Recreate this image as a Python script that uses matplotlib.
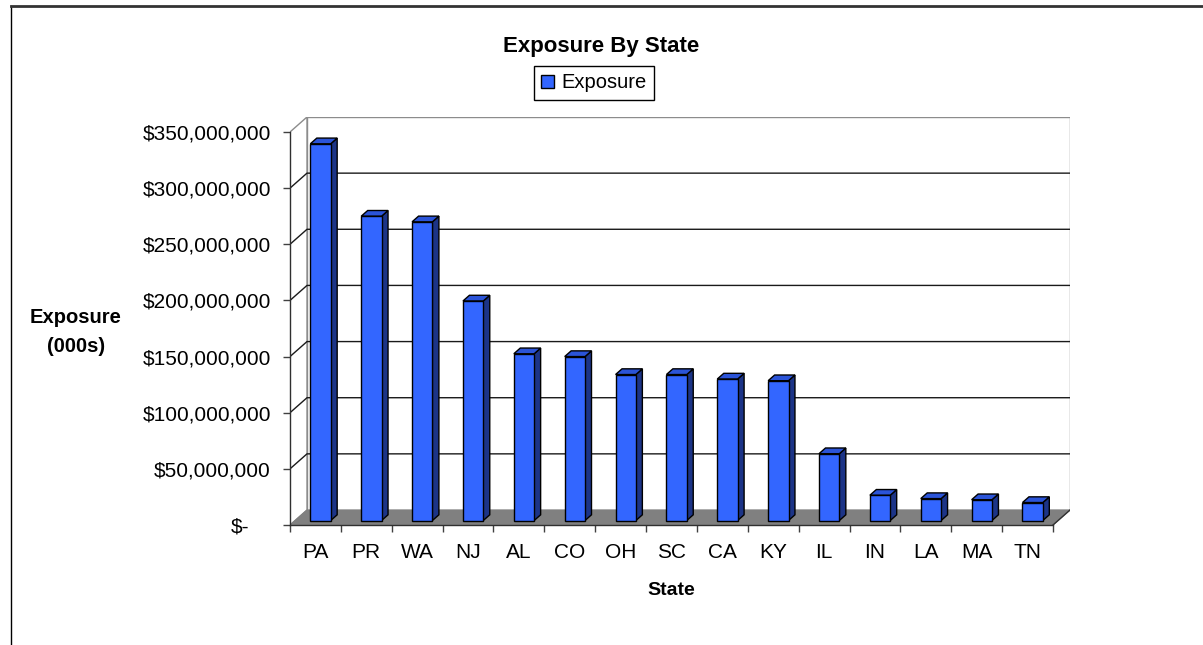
import matplotlib
matplotlib.use('Agg')
import matplotlib.pyplot as plt
from matplotlib.patches import Polygon, Rectangle, Patch
from matplotlib.lines import Line2D
import matplotlib.transforms as mtransforms
import numpy as np

# ---------------- data ----------------
states = ['PA', 'PR', 'WA', 'NJ', 'AL', 'CO', 'OH', 'SC', 'CA', 'KY', 'IL', 'IN', 'LA', 'MA', 'TN']
exposure = [335.5e6, 271e6, 266e6, 195.5e6, 148.5e6, 146e6, 130e6, 130e6, 126e6, 124.5e6,
            59.5e6, 22.5e6, 19.5e6, 18.5e6, 16e6]
y_ticks = [0, 50e6, 100e6, 150e6, 200e6, 250e6, 300e6, 350e6]
y_tick_labels = ['$-', '$50,000,000', '$100,000,000', '$150,000,000', '$200,000,000',
                 '$250,000,000', '$300,000,000', '$350,000,000']
title = 'Exposure By State'
series_name = 'Exposure'
x_title = 'State'
y_title_lines = ['Exposure', '(000s)']

# ---------------- style ----------------
plt.rcParams['font.family'] = ['Liberation Sans', 'DejaVu Sans']
FRONT = '#3366FF'
SIDE = '#1C3487'
TOP = '#2B54D8'
FLOOR = '#808080'
WALL_EDGE = '#8C8C8C'

W, H = 1203, 645
fig = plt.figure(figsize=(W / 100, H / 100), dpi=100)

# layout in pixels
front_l, front_r, front_b, front_t = 290, 1053, 525, 132
depth_x, depth_y = 17, 15
n = len(states)
ymax = y_ticks[-1]
px_per_cat = (front_r - front_l) / n
px_per_val = (front_b - front_t) / ymax
dxc = depth_x / px_per_cat
dyv = depth_y / px_per_val

ax = fig.add_axes([front_l / W, 1 - front_b / H,
                   (front_r + depth_x - front_l) / W,
                   (front_b - front_t + depth_y) / H])
ax.set_xlim(0, n + dxc)
ax.set_ylim(0, ymax + dyv)
ax.patch.set_visible(False)
for s in ['top', 'right']:
    ax.spines[s].set_visible(False)
ax.spines['left'].set_bounds(0, ymax)
ax.spines['bottom'].set_bounds(0, n)
for s in ['left', 'bottom']:
    ax.spines[s].set_color('#303030')
    ax.spines[s].set_linewidth(1)
    ax.spines[s].set_zorder(6)

# walls
back = Polygon([(dxc, dyv), (n + dxc, dyv), (n + dxc, ymax + dyv), (dxc, ymax + dyv)],
               closed=True, fc='white', ec=WALL_EDGE, lw=1, zorder=0.5)
left = Polygon([(0, 0), (dxc, dyv), (dxc, ymax + dyv), (0, ymax)],
               closed=True, fc='white', ec=WALL_EDGE, lw=1, zorder=0.5)
ax.add_patch(back)
ax.add_patch(left)
for v in y_ticks[1:-1]:
    ax.plot([0, dxc, n + dxc], [v, v + dyv, v + dyv], color='#1a1a1a', lw=1,
            zorder=0.8, solid_capstyle='butt')
floor = Polygon([(0, 0), (n, 0), (n + dxc, dyv), (dxc, dyv)], closed=True,
                fc=FLOOR, ec=FLOOR, lw=0.8, zorder=1)
ax.add_patch(floor)
ax.plot([n, n + dxc], [0, dyv], color='#303030', lw=1, zorder=1.2)

# bars
bw = 0.4
f1, f2 = 0.30, 0.68
for i, v in enumerate(exposure):
    x0 = i + 0.5 - bw / 2 + f1 * dxc
    y0 = f1 * dyv
    ddx = (f2 - f1) * dxc
    ddy = (f2 - f1) * dyv
    ax.add_patch(Polygon([(x0 + bw, y0), (x0 + bw + ddx, y0 + ddy),
                          (x0 + bw + ddx, y0 + v + ddy), (x0 + bw, y0 + v)],
                         closed=True, fc=SIDE, ec='black', lw=1, zorder=3,
                         joinstyle='miter'))
    ax.add_patch(Polygon([(x0, y0 + v), (x0 + bw, y0 + v),
                          (x0 + bw + ddx, y0 + v + ddy), (x0 + ddx, y0 + v + ddy)],
                         closed=True, fc=TOP, ec='black', lw=1, zorder=3,
                         joinstyle='miter'))
    ax.add_patch(Rectangle((x0, y0), bw, v, fc=FRONT, ec='black', lw=1, zorder=4,
                           joinstyle='miter'))

# ticks
ax.set_yticks(y_ticks)
ax.tick_params(axis='y', direction='out', length=5, width=1, color='#404040',
               labelleft=False)
ax.set_xticks(np.arange(n + 1))
ax.set_xticks(np.arange(n) + 0.5, minor=True)
ax.set_xticklabels(states, minor=True)
ax.tick_params(axis='x', which='major', direction='out', length=5, width=1,
               color='#404040', labelbottom=False)
ax.tick_params(axis='x', which='minor', length=0, pad=13, labelsize=15)

# y tick labels (zero label has accounting padding)
for v, lab in zip(y_ticks, y_tick_labels):
    off = -19 if v else -41
    tr = mtransforms.offset_copy(ax.transData, fig=fig, x=off, y=-7.5, units='dots')
    ax.text(0, v, lab, transform=tr, ha='right', va='baseline', fontsize=15,
            color='black')

# titles
fig.text(601 / W, 1 - 52 / H, title, ha='center', va='baseline', fontsize=16,
         fontweight='bold')
fig.text(671.5 / W, 1 - 595 / H, x_title, ha='center', va='baseline', fontsize=14,
         fontweight='bold')
fig.text(76 / W, 1 - 323 / H, y_title_lines[0], ha='center', va='baseline',
         fontsize=14.5, fontweight='bold')
fig.text(76 / W, 1 - 352 / H, y_title_lines[1], ha='center', va='baseline',
         fontsize=14.5, fontweight='bold')

# legend
leg = fig.legend(handles=[Patch(fc=FRONT, ec='black', lw=1)], labels=[series_name],
                 loc='center', bbox_to_anchor=(594 / W, 1 - 83 / H), fontsize=14.5,
                 frameon=True, fancybox=False, edgecolor='black', framealpha=1,
                 handlelength=0.65, handleheight=0.6, handletextpad=0.35,
                 borderpad=0.35, borderaxespad=0)
leg.get_frame().set_linewidth(1)

# outer chart border (left and top visible)
fig.add_artist(Line2D([11 / W, 11 / W], [0, 1 - 6 / H], transform=fig.transFigure,
                      color='black', lw=1))
fig.add_artist(Line2D([11 / W, 1], [1 - 6 / H, 1 - 6 / H], transform=fig.transFigure,
                      color='#333333', lw=2))

fig.savefig('out.png', dpi=100)
